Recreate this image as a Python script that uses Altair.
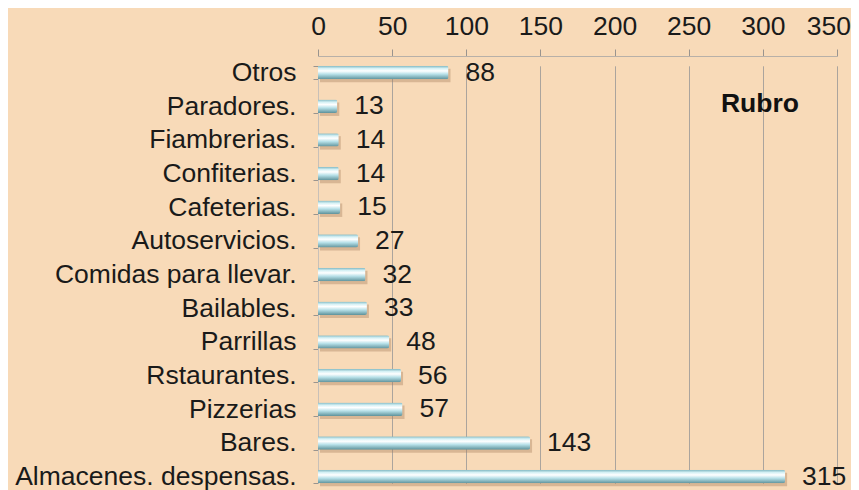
import altair as alt
import pandas as pd

categories = ["Otros", "Paradores.", "Fiambrerias.", "Confiterias.", "Cafeterias.",
              "Autoservicios.", "Comidas para llevar.", "Bailables.", "Parrillas",
              "Rstaurantes.", "Pizzerias", "Bares.", "Almacenes. despensas."]
values = [88, 13, 14, 14, 15, 27, 32, 33, 48, 56, 57, 143, 315]
x_ticks = [0, 50, 100, 150, 200, 250, 300, 350]
legend_text = "Rubro"

df = pd.DataFrame({"rubro": categories, "cantidad": values})
last_tick = pd.DataFrame({"v": [x_ticks[-1]], "t": [str(x_ticks[-1])]})

FONT = "Liberation Sans"
FS = 26.5

yscale = alt.Scale(type="band", domain=categories, range=[9.8, 427.3],
                   paddingInner=0.6, paddingOuter=0)
xscale = alt.Scale(domain=[0, 350], nice=False, zero=True)

base = alt.Chart(df)

shadow = base.mark_bar(color="#A8805F", opacity=0.4, yOffset=3, xOffset=2).encode(
    x=alt.X("cantidad:Q", scale=xscale,
            axis=alt.Axis(orient="top", values=x_ticks, title=None, grid=True,
                          gridColor="#ABA49D", gridWidth=1, domainColor="#B8B0A8",
                          tickColor="#9A948E", tickSize=7, labelPadding=9,
                          labelFont=FONT, labelFontSize=FS, labelColor="#1a1a1a",
                          labelFlush=False,
                          labelExpr="datum.value == 350 ? '' : datum.label")),
    y=alt.Y("rubro:N", scale=yscale, sort=categories,
            axis=alt.Axis(title=None, labelFont=FONT, labelFontSize=FS,
                          labelColor="#1a1a1a", tickSize=5, labelPadding=17,
                          tickBand="extent", tickColor="#9A948E",
                          domainColor="#C8C0B8", labelLimit=400)),
)

grad = alt.Gradient(
    gradient="linear", x1=0, y1=0, x2=0, y2=1,
    stops=[alt.GradientStop(offset=0, color="#7DB6C0"),
           alt.GradientStop(offset=0.2, color="#D6F1F5"),
           alt.GradientStop(offset=0.38, color="#FFFFFF"),
           alt.GradientStop(offset=0.62, color="#B8E1E9"),
           alt.GradientStop(offset=1, color="#5E929B")])

bars = base.mark_bar(color=grad, cornerRadiusEnd=2).encode(
    x=alt.X("cantidad:Q", scale=xscale),
    y=alt.Y("rubro:N", scale=yscale, sort=categories),
)

labels = base.mark_text(align="left", baseline="middle", dx=17, font=FONT,
                        fontSize=FS, color="#1a1a1a").encode(
    x=alt.X("cantidad:Q", scale=xscale),
    y=alt.Y("rubro:N", scale=yscale, sort=categories),
    text="cantidad:Q",
)

last_lab = alt.Chart(last_tick).mark_text(
    align="right", baseline="alphabetic", dx=14, font=FONT, fontSize=FS,
    color="#1a1a1a").encode(
    x=alt.X("v:Q", scale=xscale),
    y=alt.value(-21),
    text="t:N",
)

title_txt = alt.Chart(pd.DataFrame({"t": [legend_text]})).mark_text(
    align="center", baseline="middle", font=FONT, fontSize=FS, fontWeight="bold",
    color="#111111", dy=-2).encode(
    x=alt.datum(298, scale=xscale),
    y=alt.datum("Paradores.", scale=yscale),
    text="t:N",
)

chart = alt.layer(shadow, bars, labels, last_lab, title_txt).properties(
    width=519, height=434,
    background="#F8DAB8",
    padding={"left": 310, "top": 48, "right": 14, "bottom": 20},
    autosize=alt.AutoSizeParams(type="none"),
).configure_view(stroke=None)

chart.save("out.html", embed_options={"renderer": "svg", "actions": False})
